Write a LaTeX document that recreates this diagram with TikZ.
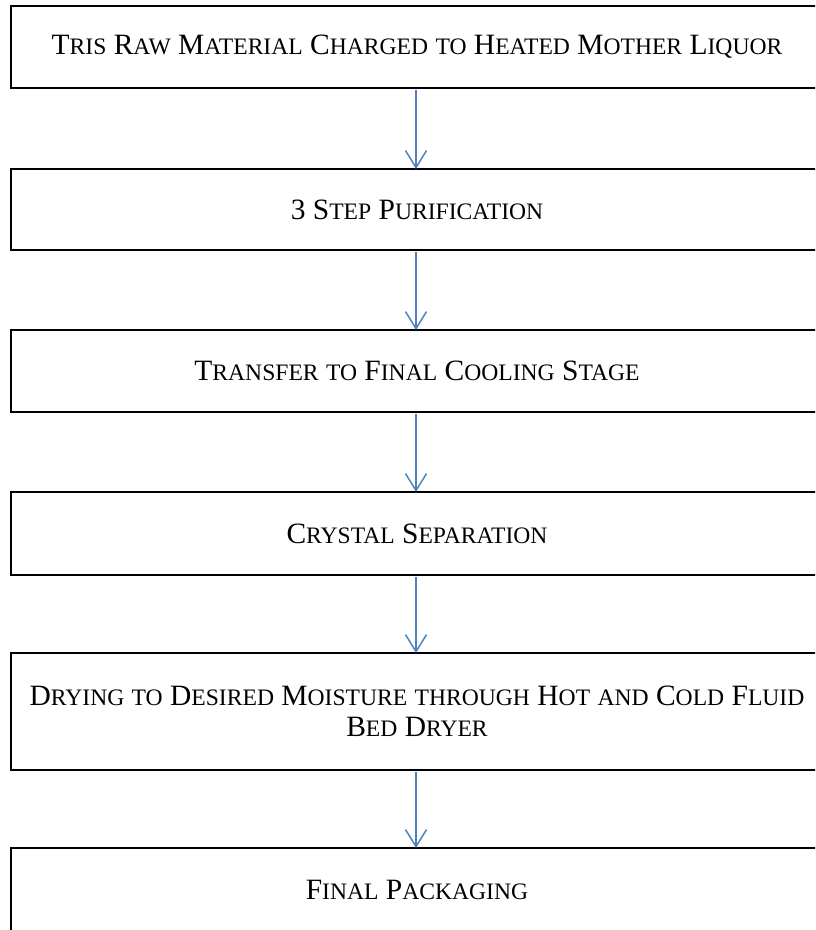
\documentclass[tikz,border=0pt]{standalone}
\usepackage{fontspec}
\setmainfont{Liberation Serif}
\usetikzlibrary{arrows.meta}
\definecolor{flowblue}{RGB}{79,129,189}
% word-style small capitals
\newcommand{\smc}[1]{{\fontsize{23.6}{31}\selectfont\uppercase{#1}}}
\tikzset{
    stage/.style={draw,line width=1.8pt,minimum width=812pt,inner sep=0pt,outer sep=0pt,
        align=center,font=\fontsize{29.5}{31}\selectfont},
    flow/.style={flowblue,line width=1.5pt,-{Straight Barb[length=17pt,width=21pt,line width=1.5pt]}}
}
\begin{document}
\begin{tikzpicture}[x=1pt,y=-1pt]
        \clip (0,0) rectangle (815,930);
        \node[stage,minimum height=82pt] (raw) at (417,47) {T\smc{ris} R\smc{aw} M\smc{aterial} C\smc{harged} \smc{to} H\smc{eated} M\smc{other} L\smc{iquor}};
        \node[stage,minimum height=81pt] (purif) at (417,209.5) {3 S\smc{tep} P\smc{urification}};
        \node[stage,minimum height=82pt] (cool) at (417,371) {T\smc{ransfer} \smc{to} F\smc{inal} C\smc{ooling} S\smc{tage}};
        \node[stage,minimum height=83pt] (sep) at (417,533.5) {C\smc{rystal} S\smc{eparation}};
        \node[stage,minimum height=117pt] (dry) at (417,711.5) {D\smc{rying} \smc{to} D\smc{esired} M\smc{oisture} \smc{through} H\smc{ot} \smc{and} C\smc{old} F\smc{luid}\\B\smc{ed} D\smc{ryer}};
        \node[stage,minimum height=84pt] (pack) at (417,890) {F\smc{inal} P\smc{ackaging}};
        \draw[flow] ([xshift=-1pt,yshift=-2pt]raw.south) -- ([xshift=-1pt]purif.north);
        \draw[flow] ([xshift=-1pt,yshift=-2pt]purif.south) -- ([xshift=-1pt]cool.north);
        \draw[flow] ([xshift=-1pt,yshift=-2pt]cool.south) -- ([xshift=-1pt]sep.north);
        \draw[flow] ([xshift=-1pt,yshift=-2pt]sep.south) -- ([xshift=-1pt]dry.north);
        \draw[flow] ([xshift=-1pt,yshift=-2pt]dry.south) -- ([xshift=-1pt]pack.north);
    \end{tikzpicture}
\end{document}
